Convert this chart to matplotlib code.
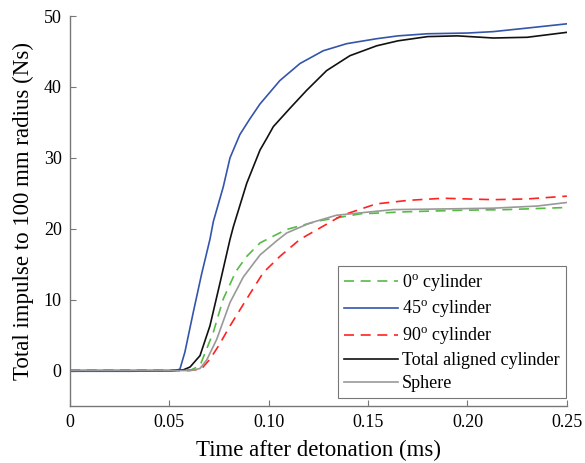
import matplotlib
matplotlib.use("Agg")
import matplotlib.pyplot as plt

plt.rcParams['font.family'] = ['Liberation Serif', 'DejaVu Serif']
plt.rcParams['mathtext.fontset'] = 'custom'
plt.rcParams['mathtext.rm'] = 'Liberation Serif'

# 0 deg cylinder
x_0 = [0, 0.055, 0.061, 0.0654, 0.0721, 0.0771, 0.0835, 0.0889, 0.0956, 0.104, 0.109, 0.117, 0.125, 0.146, 0.17, 0.196, 0.22, 0.25]
y_0 = [0, 0, 0.1, 0.7, 5.4, 10.1, 14.0, 16.1, 18.0, 19.2, 19.9, 20.5, 21.1, 22.1, 22.4, 22.6, 22.7, 23.0]

# 45 deg cylinder
x_45 = [0, 0.03, 0.05, 0.053, 0.0553, 0.0578, 0.062, 0.0662, 0.0704, 0.0721, 0.0771, 0.0805, 0.0855, 0.0905, 0.0956, 0.1056, 0.1157, 0.1274, 0.1392, 0.1543, 0.165, 0.18, 0.2, 0.213, 0.23, 0.25]
y_45 = [-0.1, -0.1, -0.05, 0, 0.2, 2.6, 8.2, 13.6, 18.5, 21.0, 25.9, 30.0, 33.3, 35.5, 37.6, 40.9, 43.3, 45.1, 46.1, 46.8, 47.2, 47.5, 47.6, 47.8, 48.3, 48.9]

# 90 deg cylinder
x_90 = [0, 0.06, 0.066, 0.0704, 0.075, 0.0805, 0.0889, 0.0972, 0.1056, 0.1157, 0.1207, 0.137, 0.154, 0.17, 0.1877, 0.213, 0.23, 0.25]
y_90 = [0, 0, 0.2, 1.6, 3.6, 6.3, 10.1, 13.8, 16.1, 18.5, 19.3, 21.9, 23.5, 24.0, 24.3, 24.1, 24.2, 24.6]

# Total aligned cylinder
x_tot = [0, 0.05, 0.057, 0.0604, 0.0654, 0.0704, 0.0755, 0.0805, 0.0822, 0.0889, 0.0956, 0.0989, 0.1023, 0.1107, 0.119, 0.1291, 0.1408, 0.1543, 0.165, 0.18, 0.195, 0.213, 0.23, 0.25]
y_tot = [0, 0, 0.1, 0.5, 2.1, 6.3, 12.4, 18.5, 20.3, 26.4, 31.1, 32.7, 34.4, 37.0, 39.5, 42.3, 44.4, 45.8, 46.5, 47.1, 47.2, 46.9, 47.0, 47.7]

# Sphere
x_sph = [0, 0.058, 0.062, 0.0654, 0.0688, 0.0738, 0.0805, 0.0872, 0.0956, 0.104, 0.109, 0.1207, 0.134, 0.1626, 0.19, 0.213, 0.235, 0.25]
y_sph = [0, 0, 0.05, 0.3, 1.5, 4.4, 9.6, 13.2, 16.3, 18.3, 19.4, 20.8, 21.9, 22.7, 22.8, 22.9, 23.2, 23.7]

labels = [r'0$^{\rm o}$ cylinder', r'45$^{\rm o}$ cylinder', r'90$^{\rm o}$ cylinder',
          'Total aligned cylinder', 'Sphere']
x_ticks = [0, 0.05, 0.10, 0.15, 0.20, 0.25]
x_ticklabels = ['0', '0.05', '0.10', '0.15', '0.20', '0.25']
y_ticks = [0, 10, 20, 30, 40, 50]

fig = plt.figure(figsize=(5.85, 4.63), dpi=100)
ax = fig.add_axes([0.1197, 0.1231, 0.8493, 0.8423])

ax.plot(x_0, y_0, color='#55bb44', lw=1.2, dashes=(6, 4), label=labels[0])
ax.plot(x_45, y_45, color='#3355aa', lw=1.2, label=labels[1])
ax.plot(x_90, y_90, color='#ff2222', lw=1.2, dashes=(6, 4), label=labels[2])
ax.plot(x_tot, y_tot, color='#111111', lw=1.2, label=labels[3])
ax.plot(x_sph, y_sph, color='#999999', lw=1.2, label=labels[4])

ax.set_xlim(0, 0.25)
ax.set_ylim(-5, 50)
ax.set_xticks(x_ticks)
ax.set_xticklabels(x_ticklabels)
ax.set_yticks(y_ticks)
for s in ['top', 'right']:
    ax.spines[s].set_visible(False)
for s in ['left', 'bottom']:
    ax.spines[s].set_color('#777777')
    ax.spines[s].set_linewidth(1.0)
ax.tick_params(direction='in', length=4, color='#777777', labelsize=13, pad=6)

ax.set_xlabel('Time after detonation (ms)', fontsize=16.5, labelpad=6)
ax.set_ylabel('Total impulse to 100 mm radius (Ns)', fontsize=16.5, labelpad=7)

leg = ax.legend(loc='lower right', bbox_to_anchor=(0.998, 0.02), borderaxespad=0,
                fontsize=13, frameon=True, fancybox=False, edgecolor='#555555',
                handlelength=3.0, handletextpad=0.2, borderpad=0.35, labelspacing=0.3)
leg.get_frame().set_linewidth(0.8)

fig.savefig('out.png', dpi=100)
